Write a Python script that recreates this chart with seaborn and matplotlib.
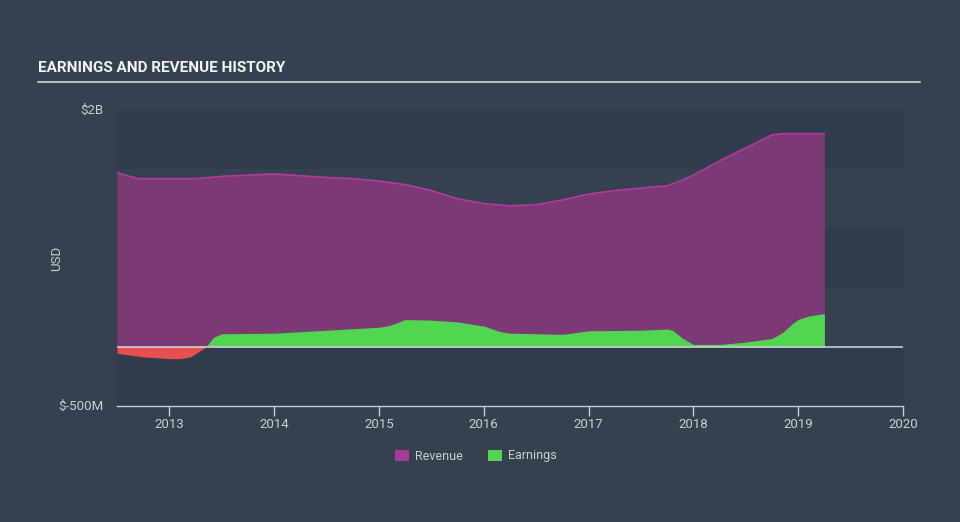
import matplotlib
matplotlib.use("Agg")
import matplotlib.pyplot as plt
from matplotlib.patches import Patch
from matplotlib.lines import Line2D
import seaborn as sns
import pandas as pd
import numpy as np

# ---- data (USD billions) ----
rev_x = [2012.5, 2012.7, 2013.0, 2013.25, 2013.5, 2014.0, 2014.5, 2014.75, 2015.0, 2015.25,
         2015.5, 2015.75, 2016.0, 2016.25, 2016.5, 2016.75, 2017.0, 2017.25, 2017.5, 2017.75,
         2017.9, 2018.0, 2018.25, 2018.5, 2018.75, 2018.85, 2019.0, 2019.25]
rev_y = [1.47, 1.42, 1.42, 1.42, 1.44, 1.46, 1.43, 1.42, 1.40, 1.37,
         1.32, 1.25, 1.21, 1.19, 1.20, 1.24, 1.29, 1.32, 1.34, 1.36,
         1.41, 1.45, 1.57, 1.68, 1.79, 1.80, 1.80, 1.80]

earn_x = [2012.5, 2012.75, 2013.0, 2013.1, 2013.2, 2013.3, 2013.35, 2013.42, 2013.5, 2014.0,
          2014.5, 2015.0, 2015.1, 2015.25, 2015.5, 2015.75, 2016.0, 2016.15, 2016.25, 2016.5,
          2016.75, 2017.0, 2017.5, 2017.75, 2017.8, 2017.9, 2018.0, 2018.25, 2018.5, 2018.75,
          2018.85, 2018.95, 2019.0, 2019.1, 2019.25]
earn_y = [-0.055, -0.085, -0.10, -0.10, -0.085, -0.03, 0.0, 0.08, 0.11, 0.115,
          0.14, 0.165, 0.18, 0.23, 0.225, 0.21, 0.175, 0.13, 0.115, 0.11,
          0.105, 0.135, 0.14, 0.15, 0.14, 0.07, 0.02, 0.02, 0.04, 0.07,
          0.12, 0.20, 0.23, 0.26, 0.28]

year_ticks = [2013, 2014, 2015, 2016, 2017, 2018, 2019, 2020]
y_ticks = [2.0, -0.5]
y_tick_labels = ["$2B", "$-500M"]
legend_labels = ["Revenue", "Earnings"]

BG = "#35414f"
BAND_DARK = "#2f3c4b"
BAND_LIGHT = "#34414f"
REV_FILL = "#7b3a73"
REV_LINE = "#b23aa0"
GREEN = "#52d652"
RED = "#e8504f"
TXT = "#c9ced4"
FONT = ["Roboto", "DejaVu Sans"]

sns.set_theme(style="dark")
plt.rcParams["font.family"] = FONT

fig = plt.figure(figsize=(9.6, 5.22), dpi=100, facecolor=BG)
ax = fig.add_axes([117/960, 1-406/522, (903-117)/960, (406-110)/522])
ax.set_facecolor(BAND_LIGHT)

# horizontal bands
for i, lo in enumerate(np.arange(-0.5, 2.0, 0.5)):
    ax.axhspan(lo, lo+0.5, color=BAND_DARK if i % 2 == 0 else BAND_LIGHT, lw=0, zorder=0)

rev = pd.DataFrame({"x": rev_x, "y": rev_y})
earn = pd.DataFrame({"x": earn_x, "y": earn_y})

ax.fill_between(rev["x"], 0, rev["y"], color=REV_FILL, lw=0, zorder=1)
sns.lineplot(data=rev, x="x", y="y", ax=ax, color=REV_LINE, lw=1.2, zorder=2)

ey = np.array(earn_y)
ax.fill_between(earn["x"], 0, ey, where=ey >= 0, interpolate=True, color=GREEN, lw=0, zorder=3)
ax.fill_between(earn["x"], 0, ey, where=ey <= 0, interpolate=True, color=RED, lw=0, zorder=3)
ax.fill_between([2012.5, 2013.35], -0.012, 0, color="#ec7a78", lw=0, zorder=3.5)

ax.axhline(0, color="#c8cdd2", lw=1.2, zorder=4)

ax.set_xlim(2012.5, 2020.0)
ax.set_ylim(-0.5, 2.0)
ax.set_xticks(year_ticks)
ax.set_xticklabels([str(y) for y in year_ticks], color=TXT, fontsize=9.5)
ax.set_yticks(y_ticks)
ax.set_yticklabels(y_tick_labels, color=TXT, fontsize=9.5)
ax.tick_params(axis="x", direction="out", length=7, width=1, color="#c8cdd2", pad=2, bottom=True)
ax.tick_params(axis="y", length=0, pad=10)
for lbl in ax.get_yticklabels():
    lbl.set_verticalalignment("center")
ax.set_xlabel("")
ax.set_ylabel("USD", color=TXT, fontsize=9.5)
ax.yaxis.set_label_coords(-0.068, 0.5)
ax.grid(False)
for s in ["top", "right", "left"]:
    ax.spines[s].set_visible(False)
ax.spines["bottom"].set_color("#c8cdd2")
ax.spines["bottom"].set_linewidth(1)

# title and underline
fig.text(38/960, 1-68/522, "EARNINGS AND REVENUE HISTORY", color="#f2f2f2", fontsize=11,
         fontweight="bold", family=["Roboto", "DejaVu Sans"],
         va="center", ha="left")
fig.add_artist(Line2D([38/960, 920/960], [1-82/522, 1-82/522], color="#b8bcc2", lw=1.5))

handles = [Patch(facecolor="#a83a98", edgecolor="none"), Patch(facecolor=GREEN, edgecolor="none")]
leg = fig.legend(handles, legend_labels, loc="center", bbox_to_anchor=(476/960, 1-456/522),
                 ncol=2, frameon=False, fontsize=9, labelcolor=TXT, handlelength=1.1,
                 handleheight=1.0, columnspacing=2.0, handletextpad=0.5)

fig.savefig("out.png", dpi=100, facecolor=BG)
